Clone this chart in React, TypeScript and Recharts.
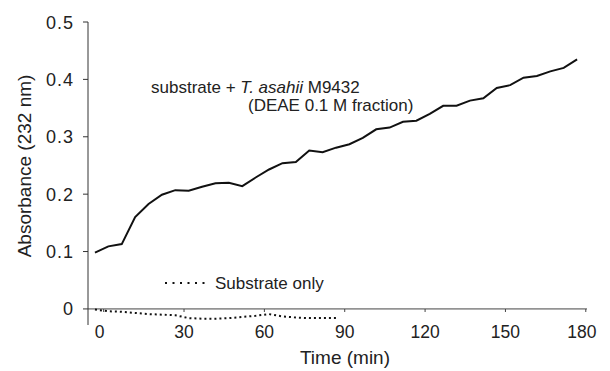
import React from 'react';
import { LineChart, Line, XAxis, YAxis, ReferenceLine } from 'recharts';

const times = [0, 5, 10, 15, 20, 25, 30, 35, 40, 45, 50, 55, 60, 65, 70, 75, 80, 85, 90, 95, 100, 105, 110, 115, 120, 125, 130, 135, 140, 145, 150, 155, 160, 165, 170, 175, 180];
const enzymeValues = [0.098, 0.109, 0.113, 0.160, 0.183, 0.199, 0.207, 0.206, 0.213, 0.219, 0.220, 0.214, 0.229, 0.243, 0.254, 0.256, 0.276, 0.273, 0.281, 0.287, 0.298, 0.313, 0.316, 0.326, 0.328, 0.340, 0.354, 0.354, 0.363, 0.367, 0.385, 0.390, 0.403, 0.406, 0.414, 0.420, 0.435];
const substrateValues = [-0.001, -0.004, -0.005, -0.007, -0.009, -0.010, -0.011, -0.016, -0.017, -0.017, -0.016, -0.014, -0.012, -0.009, -0.013, -0.015, -0.016, -0.016, -0.016];
const yTicks = [0, 0.1, 0.2, 0.3, 0.4, 0.5];
const xTicks = [0, 30, 60, 90, 120, 150, 180];

const data = times.map((t, i) => ({
  t,
  enzyme: enzymeValues[i],
  substrate: i < substrateValues.length ? substrateValues[i] : null,
}));

const FONT = '"Liberation Sans", Arial, Helvetica, sans-serif';
const TEXT = '#222';

const XTick = (props: any) => {
  const { x, y, payload } = props;
  const shift = payload.value === 0 ? -4 : payload.value === 180 ? -4 : 0;
  return (
    <g>
      <line x1={x} x2={x} y1={y - 16} y2={y - 13} stroke="#444" strokeWidth={1} />
      <text x={x + shift} y={y + 13} textAnchor="middle" fill={TEXT} fontSize={17.5} fontFamily={FONT}>
        {payload.value}
      </text>
    </g>
  );
};

const YTick = (props: any) => {
  const { x, y, payload } = props;
  return (
    <text x={x} y={y + 6.5} textAnchor="end" fill={TEXT} fontSize={18} fontFamily={FONT} letterSpacing={1}>
      {payload.value}
    </text>
  );
};

export default function App() {
  return (
    <div style={{ position: 'absolute', left: 0, top: 0, width: 610, height: 371, background: '#fff' }}>
      <LineChart width={610} height={371} data={data} margin={{ top: 22, right: 23, bottom: 16, left: 0 }}>
        <XAxis
          xAxisId="vis"
          type="number"
          dataKey="t"
          domain={[-5.85, 180.45]}
          ticks={xTicks}
          interval={0}
          allowDataOverflow
          axisLine={false}
          tickLine={false}
          tickSize={0}
          tickMargin={0}
          height={30}
          tick={<XTick />}
        />
        <XAxis xAxisId="data" type="number" dataKey="t" domain={[-2.6, 183.7]} hide height={0} allowDataOverflow />
        <YAxis
          type="number"
          domain={[-0.028, 0.5]}
          ticks={yTicks}
          interval={0}
          allowDataOverflow
          width={88}
          tickSize={5}
          tickMargin={9}
          axisLine={{ stroke: '#333', strokeWidth: 1 }}
          tickLine={{ stroke: '#333', strokeWidth: 1 }}
          tick={<YTick />}
        />
        <ReferenceLine xAxisId="data" y={0} stroke="#444" strokeWidth={1} />
        <Line
          xAxisId="data"
          type="linear"
          dataKey="enzyme"
          stroke="#111"
          strokeWidth={2}
          dot={false}
          isAnimationActive={false}
        />
        <Line
          xAxisId="data"
          type="linear"
          dataKey="substrate"
          stroke="#111"
          strokeWidth={2}
          strokeDasharray="2 3"
          dot={false}
          connectNulls={false}
          isAnimationActive={false}
        />
      </LineChart>
      <svg width={610} height={371} style={{ position: 'absolute', left: 0, top: 0, pointerEvents: 'none' }}>
        <text x={151} y={93} fill={TEXT} fontSize={17} fontFamily={FONT}>
          substrate + <tspan fontStyle="italic">T. asahii</tspan> M9432
        </text>
        <text x={248} y={111} fill={TEXT} fontSize={17} fontFamily={FONT}>
          (DEAE 0.1 M fraction)
        </text>
        <line x1={165} x2={209} y1={283} y2={283} stroke="#111" strokeWidth={2} strokeDasharray="2 5.5" />
        <text x={215} y={289} fill={TEXT} fontSize={17} fontFamily={FONT}>
          Substrate only
        </text>
        <text x={345} y={364} textAnchor="middle" fill={TEXT} fontSize={19} fontFamily={FONT}>
          Time (min)
        </text>
        <text
          x={31}
          y={166}
          textAnchor="middle"
          fill={TEXT}
          fontSize={19}
          fontFamily={FONT}
          transform="rotate(-90, 31, 166)"
        >
          Absorbance (232 nm)
        </text>
      </svg>
    </div>
  );
}
